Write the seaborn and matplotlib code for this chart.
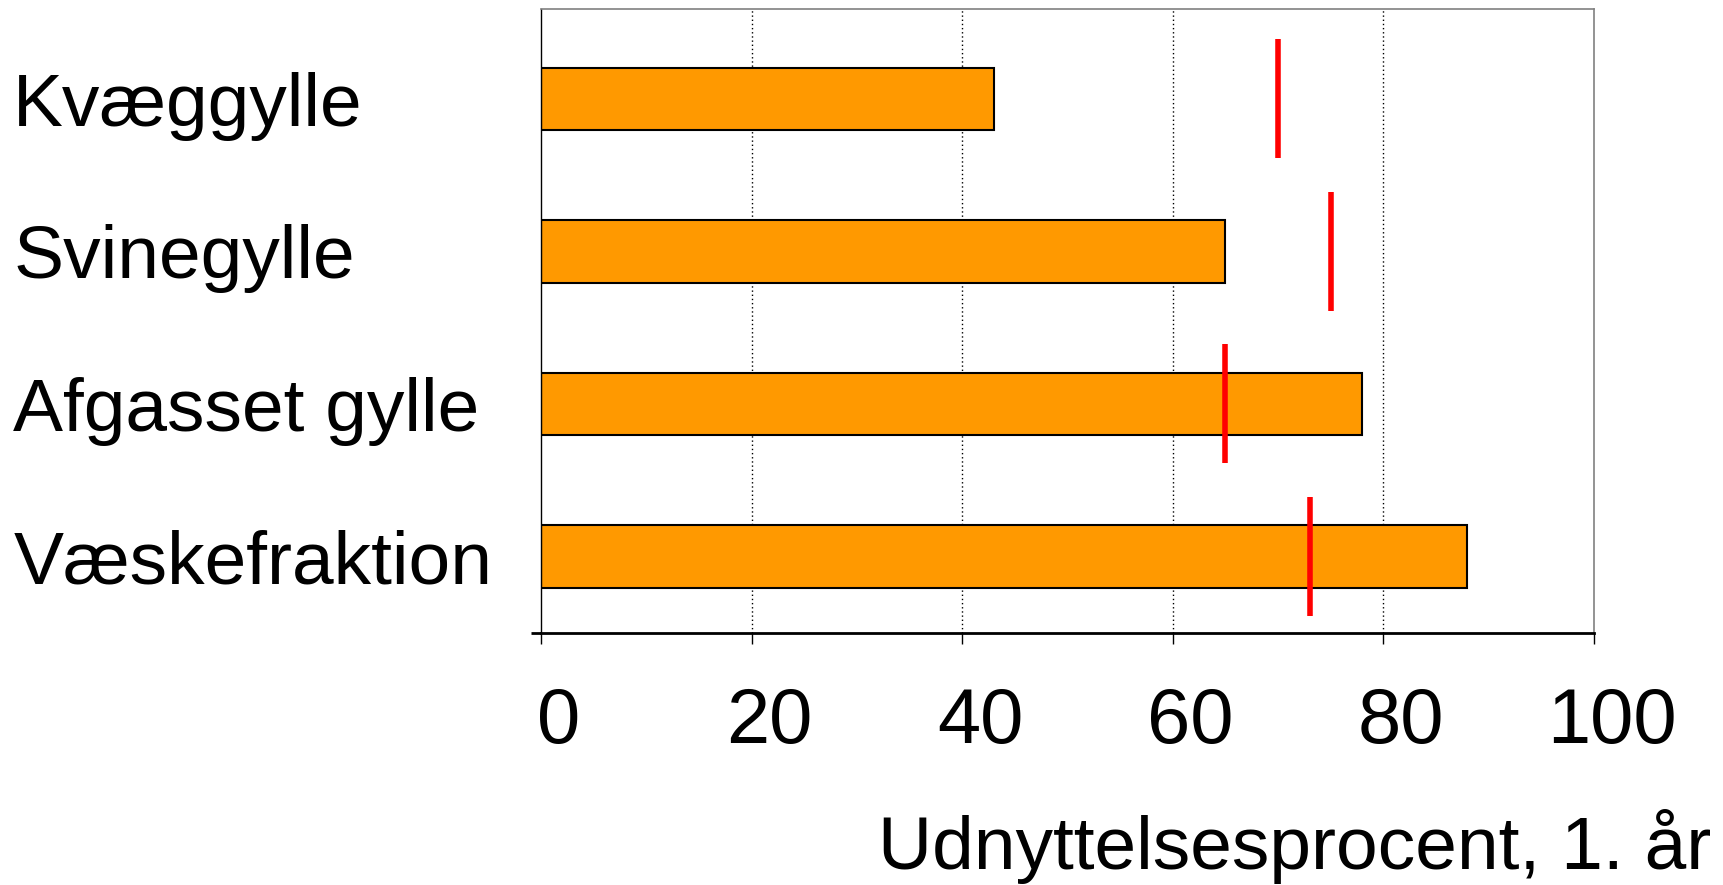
import numpy as np
import pandas as pd
import matplotlib
matplotlib.use('Agg')
import matplotlib.pyplot as plt
import matplotlib.transforms as mtransforms
import seaborn as sns

categories = ['Kvæggylle', 'Svinegylle', 'Afgasset gylle', 'Væskefraktion']
udnyttelse = [43, 65, 78, 88]      # orange bars
krav = [70, 75, 65, 73]            # red markers
xticks = [0, 20, 40, 60, 80, 100]

df = pd.DataFrame({'kategori': categories, 'udnyttelse': udnyttelse, 'krav': krav})

sns.set_style('white')
plt.rcParams['font.family'] = ['Liberation Sans', 'DejaVu Sans']
plt.rcParams['text.color'] = 'black'
plt.rcParams['xtick.color'] = 'black'
plt.rcParams['ytick.color'] = 'black'

fig = plt.figure(figsize=(17.23, 8.85), dpi=100)
ax = fig.add_axes([0.314, 0.285, 0.611, 0.705])

sns.barplot(data=df, x='udnyttelse', y='kategori', orient='h', color='#FF9900',
            saturation=1, edgecolor='black', linewidth=1.5, width=0.41, ax=ax)

ypos = np.arange(len(categories))
ax.vlines(df['krav'], ypos - 0.39, ypos + 0.39, color='#FF0000', linewidth=4, zorder=5)

ax.set_xlim(0, 100)
ax.set_ylim(3.5, -0.59)
ax.set_xticks(xticks)
ax.set_xticklabels([str(t) for t in xticks], fontsize=56)
ax.tick_params(axis='x', direction='out', length=8, width=1, color='black',
               pad=30, bottom=True)
ax.tick_params(axis='y', which='major', length=0, pad=380, labelsize=54)
# small stub where the bottom axis runs past the left spine
ax.set_yticks([3.5], minor=True)
ax.tick_params(axis='y', which='minor', left=True, direction='out', length=7, width=2)
for lab in ax.get_yticklabels():
    lab.set_horizontalalignment('left')
shift = mtransforms.ScaledTranslation(13 / 72, 0, fig.dpi_scale_trans)
for lab in ax.get_xticklabels():
    lab.set_transform(lab.get_transform() + shift)

ax.grid(False)
for x in xticks[1:-1]:
    ax.axvline(x, color='black', linestyle=(0, (1, 2)), linewidth=1, zorder=0)

for side in ['top', 'right']:
    ax.spines[side].set_color('#808080')
    ax.spines[side].set_linewidth(1.2)
ax.spines['left'].set_color('black')
ax.spines['left'].set_linewidth(1)
ax.spines['bottom'].set_color('black')
ax.spines['bottom'].set_linewidth(2)

ax.set_xlabel('')
ax.set_ylabel('')
fig.text(0.993, 0.018, 'Udnyttelsesprocent, 1. år', ha='right', va='baseline', fontsize=54)

fig.savefig('out.png', dpi=100)
